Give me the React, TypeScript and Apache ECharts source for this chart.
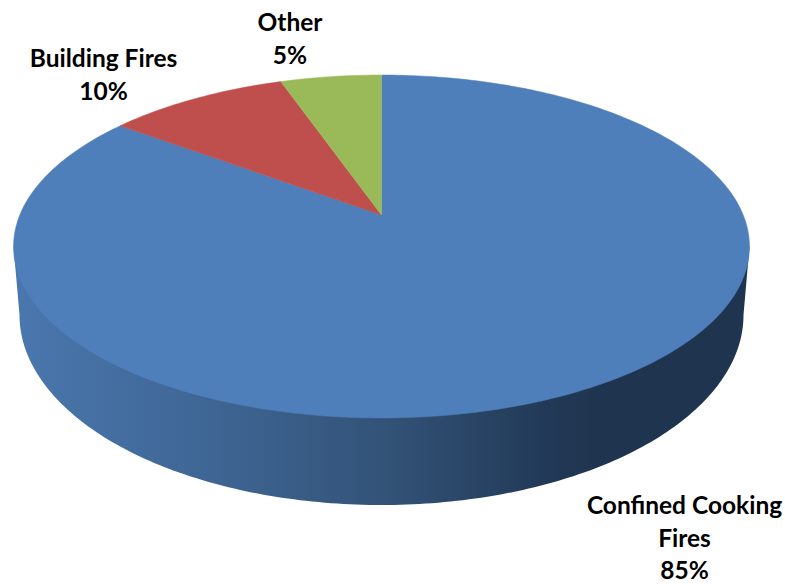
import React, { useEffect, useRef } from "react";
import * as echarts from "echarts";

const categories = ["Confined Cooking\nFires", "Building Fires", "Other"];
const values = [85.2, 9.5, 5.3];
const sliceColors = ["#4E7FBB", "#BE4F4C", "#9ABA59"];
const labelCenters = [
  [684.5, 537],
  [103.5, 74],
  [290, 38],
];

// Perspective disc: screen position of a point on the top face.
const CX = 381.5;
const CY = 215;
const A = 361.7;
const B = 165.7;
const K = 0.1837;
// Bottom rim silhouette.
const RIM_CY = 315;
const RIM_RX = 362;
const RIM_RY = 190;
const total = values.reduce((s, v) => s + v, 0);

function topPoint(theta: number): number[] {
  const u = Math.sin(theta);
  const v = -Math.cos(theta);
  const w = 1 - K * v;
  return [CX + (A * u) / w, CY + (B * v) / w];
}

function sidePoints(): number[][] {
  const edge = A / Math.sqrt(1 - K * K);
  const edgeY = CY + (B * K) / (1 - K * K);
  const pts: number[][] = [[CX - edge, edgeY]];
  for (let i = 0; i <= 180; i++) {
    const t = Math.PI - (i * Math.PI) / 180;
    pts.push([CX + RIM_RX * Math.cos(t), RIM_CY + RIM_RY * Math.sin(t)]);
  }
  pts.push([CX + edge, edgeY]);
  return pts;
}

function renderSlice(params: any, api: any) {
  const idx = params.dataIndex;
  const before = values.slice(0, idx).reduce((s, v) => s + v, 0);
  const start = (before / total) * Math.PI * 2;
  const end = ((before + api.value(0)) / total) * Math.PI * 2;
  const steps = Math.max(8, Math.ceil(((end - start) * 180) / Math.PI));
  const pts: number[][] = [[CX, CY]];
  for (let i = 0; i <= steps; i++) {
    pts.push(topPoint(start + ((end - start) * i) / steps));
  }
  const color = sliceColors[idx];
  const children: any[] = [];
  if (idx === 0) {
    children.push({
      type: "polygon",
      shape: { points: sidePoints() },
      style: {
        fill: new echarts.graphic.LinearGradient(0, 0, 1, 0, [
          { offset: 0, color: "#4A77AE" },
          { offset: 0.25, color: "#3F6796" },
          { offset: 0.5, color: "#335378" },
          { offset: 0.72, color: "#223A58" },
          { offset: 0.8, color: "#1F344E" },
          { offset: 1, color: "#1F344E" },
        ]),
      },
    });
  }
  children.push({
    type: "polygon",
    shape: { points: pts },
    style: { fill: color, stroke: color, lineWidth: 0.5 },
  });
  const [lx, ly] = labelCenters[idx];
  children.push({
    type: "text",
    x: lx,
    y: ly,
    style: {
      text: `${categories[idx]}\n${Math.round(api.value(0))}%`,
      fill: "#000000",
      font: 'bold 24.5px Lato, "Open Sans", sans-serif',
      lineHeight: 32.5,
      align: "center",
      verticalAlign: "middle",
    },
  });
  return { type: "group", children };
}

export default function App() {
  const ref = useRef<HTMLDivElement>(null);
  useEffect(() => {
    if (!ref.current) return;
    const chart = echarts.init(ref.current, undefined, { renderer: "svg" });
    chart.setOption({
      animation: false,
      backgroundColor: "#ffffff",
      series: [
        {
          type: "custom",
          coordinateSystem: "none",
          silent: true,
          clip: false,
          renderItem: renderSlice,
          data: values.map((v, i) => ({ name: categories[i], value: [v] })),
        },
      ],
    });
    return () => chart.dispose();
  }, []);
  return (
    <div
      ref={ref}
      style={{ position: "absolute", left: 0, top: 0, width: 785, height: 584 }}
    />
  );
}
